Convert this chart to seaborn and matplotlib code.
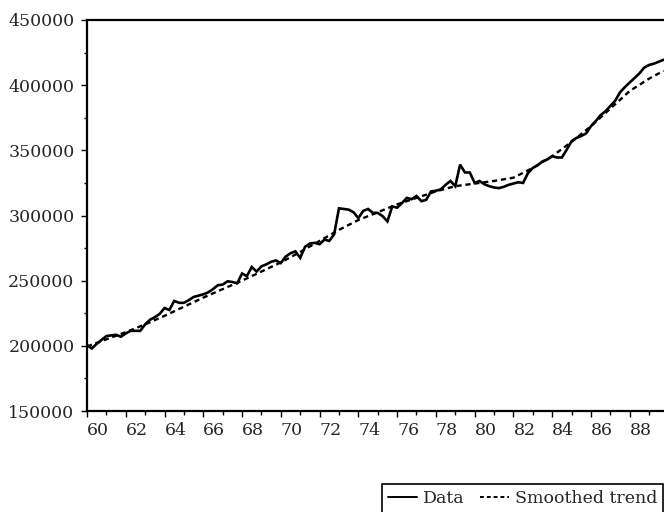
import numpy as np
import pandas as pd
import seaborn as sns
import matplotlib
matplotlib.use("Agg")
import matplotlib.pyplot as plt
from matplotlib.ticker import MultipleLocator, FixedLocator
from matplotlib.lines import Line2D

# ---- data (quarterly, 1960Q1 .. 1989Q4) ----
data_values = [
    200500, 198000, 201500, 204500,   # 1960
    207500, 208000, 208500, 207000,   # 1961
    209500, 211500, 211500, 211500,   # 1962
    216500, 220000, 222000, 224500,   # 1963
    229000, 227500, 234500, 233000,   # 1964
    233000, 235000, 237500, 238500,   # 1965
    239500, 241000, 243500, 246500,   # 1966
    247000, 249500, 249000, 248000,   # 1967
    255500, 253500, 260500, 257000,   # 1968
    261000, 262500, 264500, 265500,   # 1969
    263500, 268500, 271000, 272500,   # 1970
    267500, 276000, 278500, 279000,   # 1971
    278000, 281500, 280500, 285500,   # 1972
    305500, 305000, 304500, 302500,   # 1973
    298000, 303500, 305000, 302000,   # 1974
    302000, 299500, 295500, 307000,   # 1975
    306000, 309500, 313500, 312500,   # 1976
    315000, 311000, 312000, 318500,   # 1977
    319000, 320000, 323500, 326500,   # 1978
    322500, 339000, 333000, 333000,   # 1979
    325000, 326500, 324000, 322500,   # 1980
    321500, 321000, 322000, 323500,   # 1981
    324500, 325500, 325000, 332500,   # 1982
    336500, 338500, 341500, 343000,   # 1983
    345500, 344500, 344500, 350500,   # 1984
    357000, 359500, 361000, 363000,   # 1985
    368500, 372500, 377000, 380000,   # 1986
    384000, 388000, 394500, 398500,   # 1987
    402000, 405500, 409000, 413500,   # 1988
    415500, 416500, 418000, 419500,   # 1989
]
start_year = 60
data_x = [start_year + i * 0.25 for i in range(len(data_values))]

trend_x = [60, 61, 62, 63, 64, 65, 66, 67, 68, 69, 70, 71, 72, 73, 74, 75,
           76, 77, 78, 79, 80, 81, 82, 83, 84, 85, 86, 87, 88, 89, 89.75]
trend_values = [199500, 205000, 210500, 216500, 223000, 230000, 237000, 243500,
                250000, 257000, 264000, 272000, 280500, 289000, 296500, 302500,
                308500, 313500, 318500, 322500, 324500, 326500, 329000, 336500,
                345500, 356500, 368500, 382000, 395500, 405000, 411000]

x_tick_labels = ["60", "62", "64", "66", "68", "70", "72", "74", "76", "78",
                 "80", "82", "84", "86", "88"]
y_tick_labels = ["150000", "200000", "250000", "300000", "350000", "400000", "450000"]

series_names = ["Data", "Smoothed trend"]

# ---- figure ----
sns.set_theme(style="white")
plt.rcParams["font.family"] = ["DejaVu Serif"]

fig = plt.figure(figsize=(6.64, 5.12), dpi=100)
ax = fig.add_axes([87 / 664, 1 - 411 / 512, 1 - 87 / 664, (411 - 20) / 512])

df_data = pd.DataFrame({"year": data_x, "value": data_values})
df_trend = pd.DataFrame({"year": trend_x, "value": trend_values})

sns.lineplot(data=df_data, x="year", y="value", ax=ax, color="black",
             linewidth=1.9, solid_joinstyle="miter")
sns.lineplot(data=df_trend, x="year", y="value", ax=ax, color="black",
             linewidth=1.7, linestyle=(0, (2.2, 1.6)))

ax.set_xlim(60, 89.77)
ax.set_ylim(150000, 450000)
ax.set_xlabel("")
ax.set_ylabel("")

ax.xaxis.set_major_locator(FixedLocator([int(t) for t in x_tick_labels]))
ax.set_xticklabels(x_tick_labels, ha="left")
ax.xaxis.set_minor_locator(MultipleLocator(1))
ax.yaxis.set_major_locator(FixedLocator([int(t) for t in y_tick_labels]))
ax.set_yticklabels(y_tick_labels)
ax.yaxis.set_minor_locator(MultipleLocator(25000))

ax.tick_params(axis="both", which="both", direction="out", color="black",
               width=1.0, bottom=True, left=True)
ax.tick_params(axis="x", which="major", length=4, pad=4, labelsize=12.5)
ax.tick_params(axis="x", which="minor", length=3)
ax.tick_params(axis="y", which="major", length=4, pad=5, labelsize=12.5)
ax.tick_params(axis="y", which="minor", length=2.5)
for lab in ax.get_xticklabels():
    lab.set_horizontalalignment("left")

for side in ["left", "bottom", "top"]:
    ax.spines[side].set_visible(True)
    ax.spines[side].set_color("black")
    ax.spines[side].set_linewidth(1.6)
ax.spines["right"].set_visible(False)

handles = [Line2D([], [], color="black", linewidth=1.4),
           Line2D([], [], color="black", linewidth=1.4, linestyle=(0, (2, 1.5)))]
leg = fig.legend(handles, series_names, loc="lower right",
                 bbox_to_anchor=(1.0115, -0.02), ncol=2, frameon=True,
                 fancybox=False, edgecolor="black", framealpha=1,
                 borderpad=0.35, handlelength=1.7, handletextpad=0.3,
                 columnspacing=0.9, prop={"family": "DejaVu Serif", "size": 12.5})
leg.get_frame().set_linewidth(1.2)

fig.savefig("out.png", dpi=100, facecolor="white")
